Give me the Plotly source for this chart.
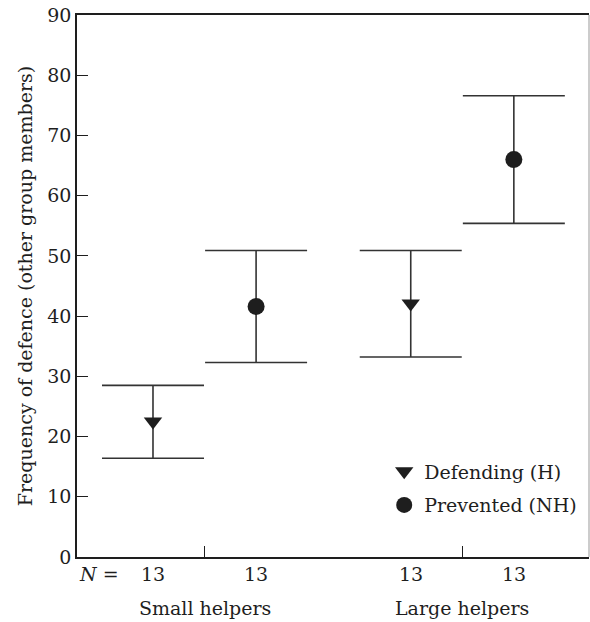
import plotly.graph_objects as go

# ---- data ----
groups = ["Small helpers", "Large helpers"]
series_names = ["Defending (H)", "Prevented (NH)"]
defending_mean = [22.5, 42.1]
defending_upper = [28.5, 50.9]
defending_lower = [16.4, 33.2]
prevented_mean = [41.6, 66.0]
prevented_upper = [50.9, 76.6]
prevented_lower = [32.3, 55.4]
n_defending = ["13", "13"]
n_prevented = ["13", "13"]
y_ticks = [0, 10, 20, 30, 40, 50, 60, 70, 80, 90]

# ---- layout helpers ----
FONT = "DejaVu Serif"
FS = 19
INK = "#1e1e1e"
BAR = "#333333"
group_step = 2.5
def_x = [1 + i * group_step for i in range(len(groups))]
prev_x = [x + 1 for x in def_x]
centers = [x + 0.5 for x in def_x]

fig = go.Figure()

fig.add_trace(go.Scatter(
    x=def_x, y=defending_mean, mode="markers", name=series_names[0],
    legendgroup="a",
    marker=dict(symbol="triangle-down", size=16, color=INK),
    error_y=dict(type="data", symmetric=False,
                 array=[u - m for u, m in zip(defending_upper, defending_mean)],
                 arrayminus=[m - l for m, l in zip(defending_mean, defending_lower)],
                 width=51, thickness=1.6, color=BAR),
))
fig.add_trace(go.Scatter(
    x=prev_x, y=prevented_mean, mode="markers", name=series_names[1],
    legendgroup="b",
    marker=dict(symbol="circle", size=17, color=INK),
    error_y=dict(type="data", symmetric=False,
                 array=[u - m for u, m in zip(prevented_upper, prevented_mean)],
                 arrayminus=[m - l for m, l in zip(prevented_mean, prevented_lower)],
                 width=51, thickness=1.6, color=BAR),
))

annotations = []
for x, t in zip(def_x + prev_x, n_defending + n_prevented):
    annotations.append(dict(x=x, y=0, xref="x", yref="paper", text=t,
                            showarrow=False, yanchor="middle", yshift=-17,
                            font=dict(family=FONT, size=FS, color=INK)))
for x, g in zip(centers, groups):
    annotations.append(dict(x=x, y=0, xref="x", yref="paper", text=g,
                            showarrow=False, yanchor="middle", yshift=-51,
                            font=dict(family=FONT, size=FS, color=INK)))
annotations.append(dict(x=0, y=0, xref="paper", yref="paper", text="<i>N</i> =",
                        showarrow=False, xanchor="left", yanchor="middle", yshift=-17,
                        font=dict(family=FONT, size=FS, color=INK)))

fig.update_layout(
    width=590, height=622,
    margin=dict(l=77, r=1, t=15, b=65),
    paper_bgcolor="white", plot_bgcolor="white",
    font=dict(family=FONT, size=FS, color=INK),
    showlegend=True,
    legend=dict(x=0.6, y=0.193, xanchor="left", yanchor="top",
                bgcolor="rgba(0,0,0,0)", tracegroupgap=6,
                font=dict(family=FONT, size=FS, color=INK)),
    annotations=annotations,
    shapes=[dict(type="line", xref="paper", yref="paper", x0=1, x1=1, y0=0, y1=1,
                 line=dict(color="#bbbbbb", width=1.5))],
)

fig.update_xaxes(
    range=[0.263, 5.229], showgrid=False, zeroline=False,
    showline=True, linecolor=INK, linewidth=1.5, mirror=True,
    tickvals=centers, ticktext=["", ""], ticks="inside", ticklen=11,
    tickwidth=1.2, tickcolor=INK, showticklabels=False,
)
fig.update_yaxes(
    range=[0, 90], showgrid=False, zeroline=False,
    showline=True, linecolor=INK, linewidth=1.5,
    tickvals=y_ticks, ticks="inside", ticklen=11, tickwidth=1.2, tickcolor=INK,
    tickfont=dict(family=FONT, size=FS, color=INK),
    title=dict(text="Frequency of defence (other group members)",
               font=dict(family=FONT, size=FS, color=INK), standoff=10),
)

fig.write_html("out.html")
